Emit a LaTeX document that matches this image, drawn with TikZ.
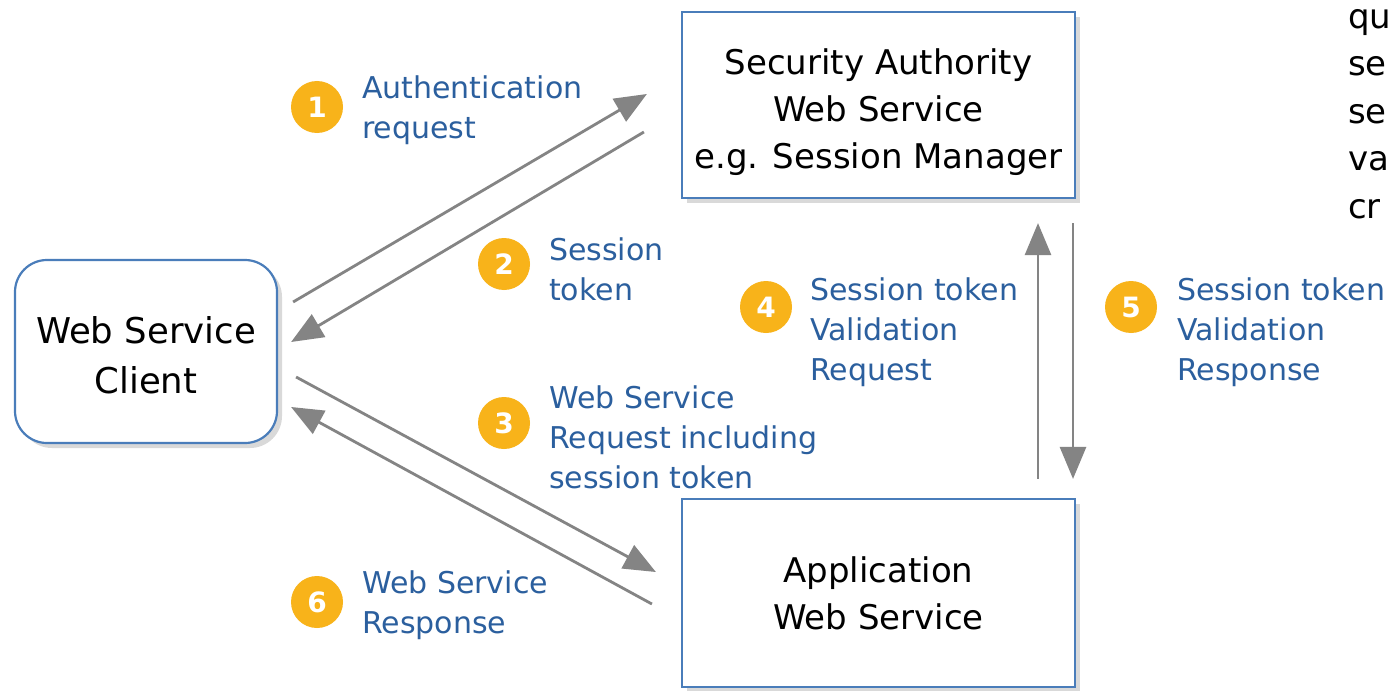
\documentclass[tikz,border=0pt]{standalone}
\usepackage{fontspec}
\setmainfont{DejaVu Sans}
\usetikzlibrary{arrows.meta,shadows}
\definecolor{boxblue}{HTML}{4A7DBA}
\definecolor{lblblue}{HTML}{2B5F9E}
\definecolor{stepor}{HTML}{F8B31A}
\definecolor{arrgray}{HTML}{848484}
\begin{document}
\begin{tikzpicture}[x=1pt,y=-1pt,
  boxshape/.style={draw=boxblue,line width=2.2pt,fill=white,inner sep=0pt,
    drop shadow={shadow xshift=5pt,shadow yshift=-5pt,fill=black!15,opacity=1}},
  boxtext/.style={align=center,inner sep=0pt,font=\fontsize{34}{47}\selectfont},
  num/.style={circle,fill=stepor,text=white,font=\fontsize{28}{28}\selectfont\bfseries,minimum size=52pt,inner sep=0pt},
  lbl/.style={anchor=north west,align=left,text=lblblue,font=\fontsize{30}{40}\selectfont,inner sep=0pt},
  cuttext/.style={anchor=north west,align=left,inner sep=0pt,font=\fontsize{34}{47.5}\selectfont},
  flow/.style={draw=arrgray,line width=2.8pt,-{Triangle[length=32pt,width=26pt]}},
]
\useasboundingbox (0,0) rectangle (1388,690);
\clip (0,0) rectangle (1388,690);
\fill[white] (0,0) rectangle (1388,690);

% boxes
\node[boxshape,rounded corners=32pt,minimum width=262pt,minimum height=183pt] (client) at (146,351.5) {};
\node[boxtext,font=\fontsize{35.5}{50}\selectfont] (clienttxt) at ([yshift=-4pt]client.center) {Web Service\\Client};

\node[boxshape,minimum width=393pt,minimum height=186pt] (sec) at (878.5,105) {};
\node[boxtext] (sectxt) at ([yshift=-7pt]sec.center) {Security Authority\\Web Service\\e.g. Session Manager};

\node[boxshape,minimum width=393pt,minimum height=188pt] (app) at (878.5,593) {};
\node[boxtext] (apptxt) at (app.center) {Application\\Web Service};

% connectors
\draw[flow] ([xshift=15pt,yshift=49.5pt]client.east) -- ([xshift=-34pt,yshift=11pt]sec.west);
\draw[flow] ([xshift=-37pt,yshift=-27pt]sec.west) -- ([xshift=13pt,yshift=9.5pt]client.east);
\draw[flow] ([xshift=18pt,yshift=-25.5pt]client.east) -- ([xshift=-25pt,yshift=21pt]app.west);
\draw[flow] ([xshift=-29pt,yshift=-11pt]app.west) -- ([xshift=13pt,yshift=-55.5pt]client.east);
\draw[flow] ([xshift=159.5pt,yshift=19pt]app.north) -- ([xshift=159.5pt,yshift=-24pt]sec.south);
\draw[flow] ([xshift=194.5pt,yshift=-24pt]sec.south) -- ([xshift=194.5pt,yshift=19pt]app.north);

% step badges
\node[num] (n1) at (317,107) {1};
\node[num] (n2) at (504,264) {2};
\node[num] (n3) at (504,423) {3};
\node[num] (n4) at (766,307) {4};
\node[num] (n5) at (1131,307) {5};
\node[num] (n6) at (317,602) {6};

% labels
\node[lbl] (l1) at (362,70) {\strut Authentication\\request};
\node[lbl] (l2) at (549,232) {\strut Session\\token};
\node[lbl] (l3) at (549,380) {\strut Web Service\\Request including\\session token};
\node[lbl] (l4) at (810,272) {\strut Session token\\Validation\\Request};
\node[lbl] (l5) at (1177,272) {\strut Session token\\Validation\\Response};
\node[lbl] (l6) at (362,565) {\strut Web Service\\Response};

% cut-off text at right edge (as in the reference)
\node[cuttext] (cut) at (1348,-5.25) {\strut qu\\se\\se\\va\\cr};
\end{tikzpicture}
\end{document}
